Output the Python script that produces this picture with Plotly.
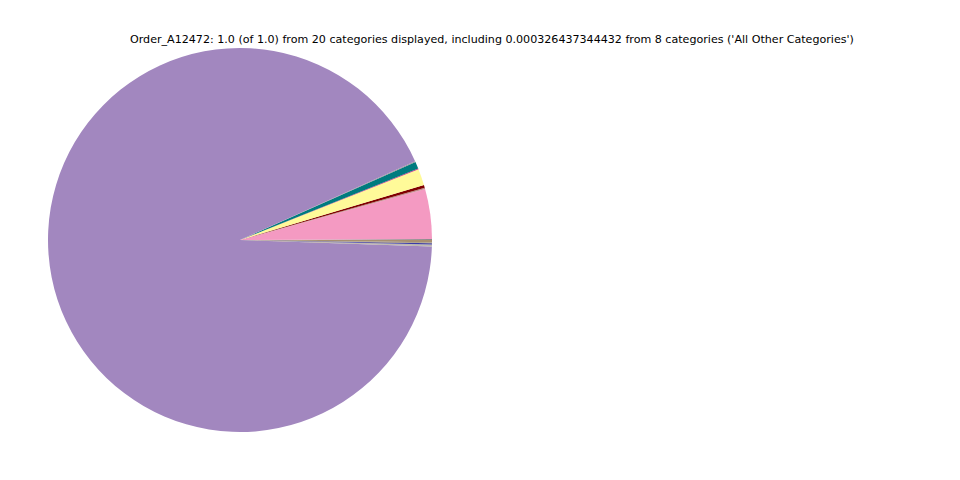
import plotly.graph_objects as go

categories = [
    "Cat_01", "Cat_02", "Cat_03", "Cat_04", "Cat_05", "Cat_06", "Cat_07",
    "Cat_08", "Cat_09", "Cat_10", "Cat_11", "Cat_12", "Cat_13", "Cat_14",
    "Cat_15", "Cat_16", "Cat_17", "Cat_18", "Cat_19", "All Other Categories",
]
values = [
    0.0018, 0.0008, 0.0420, 0.0010, 0.0025, 0.0138, 0.0006, 0.0058, 0.0008,
    0.0, 0.0003, 0.0003, 0.0002, 0.0002, 0.0002, 0.0002, 0.0002, 0.0010, 0.0006,
    0.000326437344432,
]
colors = [
    "#a89070", "#8c8c8c", "#f49ac2", "#c08a8a", "#800000", "#fffa99", "#d0207f",
    "#007b7f", "#909090", "#a287bf", "#b0b0b0", "#c0a070", "#808080", "#a0a0a0",
    "#b09080", "#9090b0", "#a0a080", "#3a3aa8", "#a08a60", "#909090",
]
values[9] = 1.0 - sum(v for i, v in enumerate(values) if i != 9)

title_text = ("Order_A12472: 1.0 (of 1.0) from 20 categories displayed, including "
              "0.000326437344432 from 8 categories ('All Other Categories')")

fig = go.Figure(go.Pie(
    labels=categories,
    values=values,
    marker=dict(colors=colors, line=dict(width=0)),
    sort=False,
    direction="counterclockwise",
    rotation=90,
    textinfo="none",
    hoverinfo="label+value",
    domain=dict(x=[40 / 960, 424 / 960], y=[56 / 480, 440 / 480]),
    showlegend=False,
))

fig.update_layout(
    width=960, height=480,
    margin=dict(l=0, r=0, t=0, b=0),
    paper_bgcolor="white", plot_bgcolor="white",
    annotations=[dict(
        text=title_text, x=484 / 960, y=1 - 32 / 480, xref="paper", yref="paper",
        xanchor="center", yanchor="middle", showarrow=False,
        font=dict(family="DejaVu Sans", size=11.1, color="black"),
    )],
)

fig.write_html("out.html")
